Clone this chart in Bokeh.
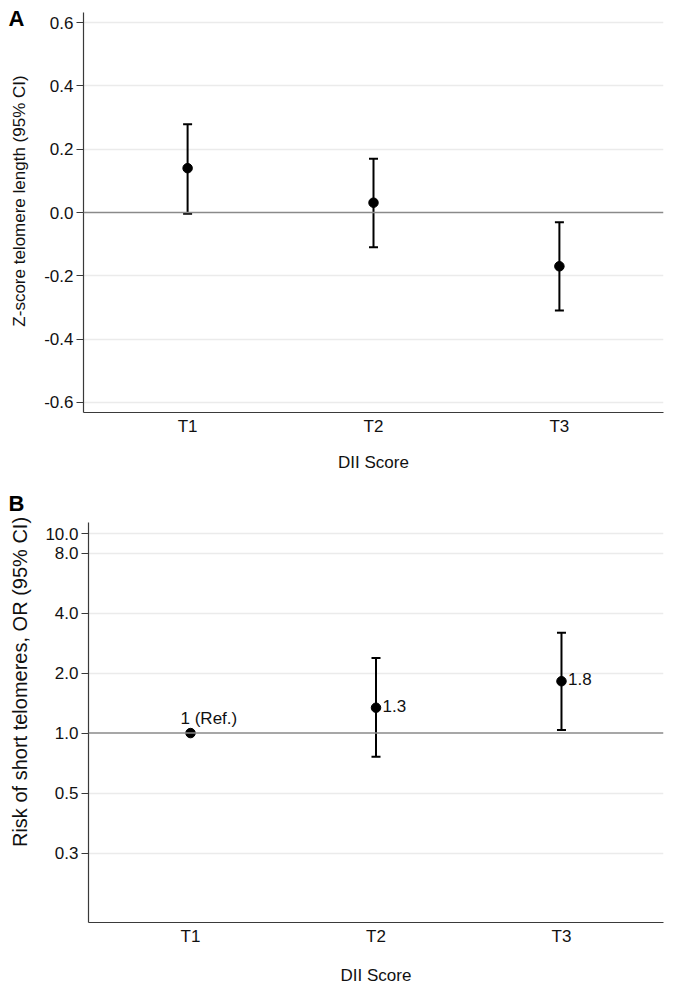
import math
from bokeh.plotting import figure
from bokeh.models import Range1d, FixedTicker, Span, Whisker, TeeHead, ColumnDataSource, Label
from bokeh.layouts import column, row
from bokeh.embed import file_html
from bokeh.resources import INLINE
from bokeh.core.properties import value

# ---------------- data ----------------
CATEGORIES = ["T1", "T2", "T3"]
X_LABEL = "DII Score"

# Panel A: Z-score telomere length
Z_EST = [0.14, 0.031, -0.17]
Z_LOW = [-0.004, -0.11, -0.31]
Z_HIGH = [0.279, 0.17, -0.031]
Z_TICKS = [-0.6, -0.4, -0.2, 0.0, 0.2, 0.4, 0.6]
Z_TICK_LABELS = ["-0.6", "-0.4", "-0.2", "0.0", "0.2", "0.4", "0.6"]
Z_REF = 0.0
Y_LABEL_A = "Z-score telomere length (95% CI)"

# Panel B: odds ratio of short telomeres
OR_EST = [1.0, 1.34, 1.82]
OR_LOW = [None, 0.76, 1.035]
OR_HIGH = [None, 2.38, 3.19]
OR_TEXT = ["1 (Ref.)", "1.3", "1.8"]
OR_TICKS = [0.25, 0.5, 1.0, 2.0, 4.0, 8.0, 10.0]
OR_TICK_LABELS = ["0.3", "0.5", "1.0", "2.0", "4.0", "8.0", "10.0"]
OR_REF = 1.0
Y_LABEL_B = "Risk of short telomeres, OR (95% CI)"

# ---------------- style ----------------
FONT = "Liberation Sans"
FS = "17px"
AX = "#3a3a3a"
GRID = "#ebebeb"
REFC = "#8a8a8a"
TXT = "#111111"
GUTTER = 36

XPOS = [i + 1 for i in range(len(CATEGORIES))]


def style(p, yticks, ylabels, ref, xlabel_standoff):
    p.outline_line_color = None
    p.background_fill_color = "white"
    p.border_fill_color = "white"
    p.xgrid.visible = False
    p.ygrid.ticker = FixedTicker(ticks=[t for t in yticks if t != ref])
    p.ygrid.grid_line_color = GRID
    p.ygrid.grid_line_width = 1.5

    xa = p.xaxis[0]
    xa.ticker = FixedTicker(ticks=XPOS)
    xa.major_label_overrides = {x: c for x, c in zip(XPOS, CATEGORIES)}
    xa.major_tick_out = 0
    xa.major_tick_in = 0
    xa.minor_tick_out = 0
    xa.minor_tick_in = 0
    xa.axis_line_color = AX
    xa.axis_line_width = 1.2
    xa.major_label_standoff = 4
    xa.major_label_text_font = FONT
    xa.major_label_text_font_size = FS
    xa.major_label_text_color = TXT
    xa.axis_label = X_LABEL
    xa.axis_label_standoff = xlabel_standoff
    xa.axis_label_text_font = FONT
    xa.axis_label_text_font_size = FS
    xa.axis_label_text_font_style = "normal"
    xa.axis_label_text_color = TXT

    ya = p.yaxis[0]
    ya.ticker = FixedTicker(ticks=yticks)
    ya.major_label_overrides = {t: l for t, l in zip(yticks, ylabels)}
    ya.major_tick_out = 7
    ya.major_tick_in = 0
    ya.minor_tick_out = 0
    ya.minor_tick_in = 0
    ya.axis_line_color = AX
    ya.axis_line_width = 1.2
    ya.major_tick_line_color = AX
    ya.major_tick_line_width = 1.2
    ya.major_label_standoff = 3
    ya.major_label_text_font = FONT
    ya.major_label_text_font_size = FS
    ya.major_label_text_color = TXT

    p.add_layout(Span(location=ref, dimension="width", line_color=REFC, line_width=1.5))


def errorbars(p, x, est, lo, hi):
    rows = [i for i in range(len(x)) if lo[i] is not None and hi[i] is not None]
    src = ColumnDataSource(dict(x=[x[i] for i in rows],
                                lo=[lo[i] for i in rows],
                                hi=[hi[i] for i in rows]))
    w = Whisker(base="x", lower="lo", upper="hi", source=src,
                line_color="black", line_width=2,
                upper_head=TeeHead(size=9, line_width=2, line_color="black"),
                lower_head=TeeHead(size=9, line_width=2, line_color="black"))
    p.add_layout(w)
    p.scatter(x=x, y=est, size=9.5, color="black")


def gutter(height, letter, letter_base, ylabel, lab_x, lab_y, lab_fs):
    """Narrow strip left of a panel: panel letter and rotated y-axis title."""
    g = figure(width=GUTTER, height=height,
               min_border_left=0, min_border_right=0, min_border_top=0, min_border_bottom=0,
               x_axis_location=None, y_axis_location=None,
               x_range=Range1d(0, 1), y_range=Range1d(0, 1),
               output_backend="svg", toolbar_location=None)
    g.outline_line_color = None
    g.grid.visible = False
    g.background_fill_color = "white"
    g.border_fill_color = "white"
    g.add_layout(Label(x=8, y=height - letter_base, x_units="screen", y_units="screen",
                       text=letter, text_font=FONT, text_font_size="22px",
                       text_font_style="bold", text_align="left",
                       text_baseline="alphabetic", text_color="black"))
    g.add_layout(Label(x=lab_x, y=height - lab_y, x_units="screen", y_units="screen",
                       text=ylabel, angle=math.pi / 2, text_font=FONT,
                       text_font_size=lab_fs, text_align="center",
                       text_baseline="middle", text_color=TXT))
    return g


# ---------------- panel A ----------------
HA = 482
pA = figure(frame_width=580, frame_height=400,
            min_border_left=83 - GUTTER, min_border_right=10, min_border_top=12, min_border_bottom=70,
            x_range=Range1d(0.44, 3.56), y_range=Range1d(-0.632, 0.632),
            output_backend="svg", toolbar_location=None)
style(pA, Z_TICKS, Z_TICK_LABELS, Z_REF, 14)
errorbars(pA, XPOS, Z_EST, Z_LOW, Z_HIGH)
gA = gutter(HA, "A", 18, Y_LABEL_A, 18.5, 200.5, "17px")

# ---------------- panel B ----------------
HB = 502
pB = figure(frame_width=575, frame_height=400,
            min_border_left=88 - GUTTER, min_border_right=10, min_border_top=40, min_border_bottom=62,
            x_range=Range1d(0.45, 3.55), y_range=Range1d(0.112, 11.4), y_axis_type="log",
            output_backend="svg", toolbar_location=None)
style(pB, OR_TICKS, OR_TICK_LABELS, OR_REF, 17)
errorbars(pB, XPOS, OR_EST, OR_LOW, OR_HIGH)

ref_rows = [i for i in range(len(XPOS)) if OR_LOW[i] is None]
ci_rows = [i for i in range(len(XPOS)) if OR_LOW[i] is not None]
pB.text(x=[XPOS[i] for i in ref_rows], y=[OR_EST[i] for i in ref_rows],
        text=[OR_TEXT[i] for i in ref_rows],
        text_font=value(FONT), text_font_size=value(FS), text_color=TXT,
        text_align="left", text_baseline="alphabetic", x_offset=-10, y_offset=-15)
pB.text(x=[XPOS[i] for i in ci_rows], y=[OR_EST[i] for i in ci_rows],
        text=[OR_TEXT[i] for i in ci_rows],
        text_font=value(FONT), text_font_size=value(FS), text_color=TXT,
        text_align="left", text_baseline="middle", x_offset=6.5, y_offset=-2)
gB = gutter(HB, "B", 21, Y_LABEL_B, 19.2, 199.5, "20px")

# gutters are wrapped in their own column so their frames are not aligned with the panels
layout = column(row(column(gA), pA, spacing=0), row(column(gB), pB, spacing=0), spacing=0)
open("out.html", "w").write(file_html(layout, INLINE))
